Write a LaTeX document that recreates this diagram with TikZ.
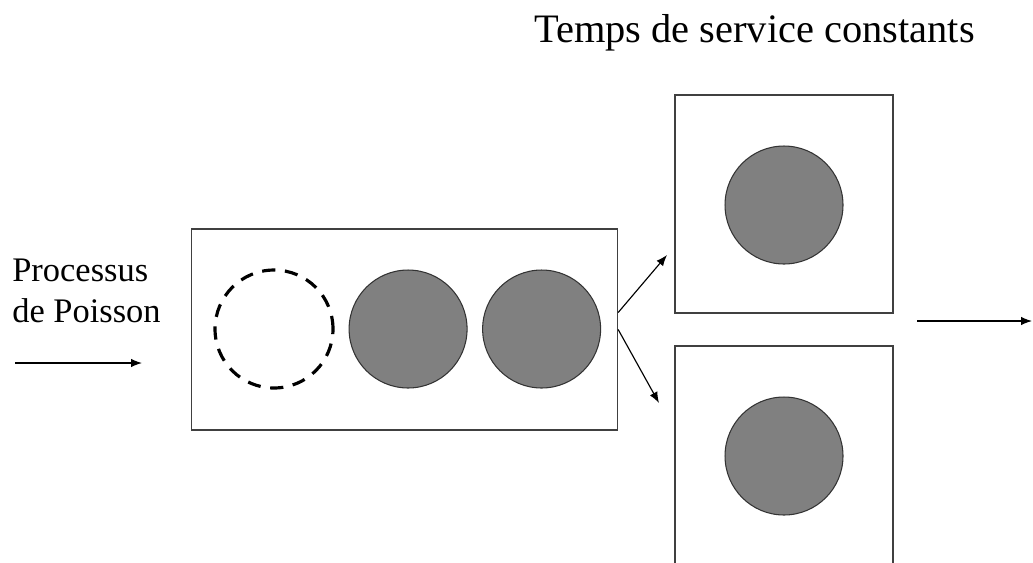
\documentclass[tikz,border=0pt]{standalone}
\usepackage{fontspec}
\setmainfont{Liberation Serif}
\usetikzlibrary{positioning, arrows.meta}

\begin{document}
\begin{tikzpicture}[x=0.02cm, y=-0.02cm, >={Latex[length=2.2mm, width=1.7mm]}, % one unit = one pixel of the sketch
    box/.style={draw=black!75, line width=0.8pt, inner sep=0pt},
    client/.style={circle, draw=black!80, fill=black!50, line width=0.6pt, minimum size=2.36cm, inner sep=0pt},
    ghost/.style={circle, draw, dash pattern=on 7.5pt off 5.5pt, line width=1.8pt, minimum size=2.36cm, inner sep=0pt},
    flow/.style={->, line width=0.65pt}]

    \useasboundingbox (0,0) rectangle (1033,562);
    \clip (0,0) rectangle (1033,562); % lower server is cut off at the bottom

    % 1. Labels
    \node (title) [anchor=base] at (754.5,42) {\fontsize{23}{27}\selectfont Temps de service constants};
    \node (src) [anchor=base west, align=left, inner sep=0pt, font=\fontsize{19.6}{22.8}\selectfont] at (12,322) {Processus\\de Poisson}; % base = last line

    % 2. Queue with waiting clients
    \node (queue) [box, minimum width=8.52cm, minimum height=4.02cm] at (404.5,329.5) {};
    \node (c0) [ghost] at (274,329) {};
    \node (c1) [client, right=0.28cm of c0] {};
    \node (c2) [client, right=0.29cm of c1] {};

    % 3. Two servers
    \node (srvA) [box, minimum size=4.36cm] at (784,204) {};
    \node (srvB) [box, minimum size=4.36cm] at (784,455) {};
    \node (jobA) [client] at (784,205) {};
    \node (jobB) [client] at (784,456) {};

    % 4. Arrows
    \coordinate (in0) at (15,363);
    \coordinate (in1) at (142,363);
    \coordinate (toA) at (667,255);
    \coordinate (toB) at (659,403);
    \coordinate (out0) at (917,321);
    \coordinate (out1) at (1032,321);

    \draw[flow] (in0) -- (in1);
    \draw[flow] ([yshift=0.34cm]queue.east) -- (toA);
    \draw[flow] (queue.east) -- (toB);
    \draw[flow] (out0) -- (out1);

\end{tikzpicture}
\end{document}
